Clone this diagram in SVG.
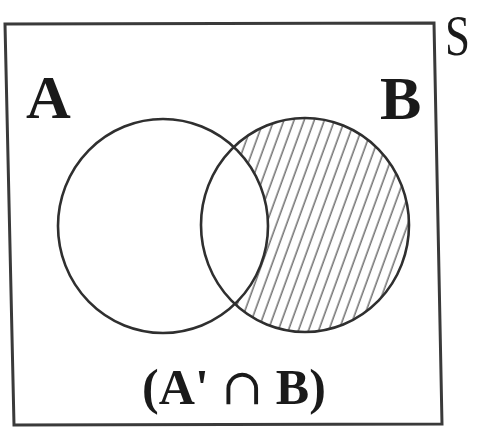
<svg xmlns="http://www.w3.org/2000/svg" width="477" height="429" viewBox="0 0 477 429">
<style>
.ring{fill:none;stroke:#2f2f2f;stroke-width:2.6}
.lbl{font-family:"Liberation Serif","Times New Roman",serif;fill:#1a1a1a}
</style>
<defs>
<pattern id="hatch" width="9.5" height="20" patternUnits="userSpaceOnUse" patternTransform="rotate(20)">
<line x1="4" y1="-2" x2="4" y2="22" stroke="#777" stroke-width="1.6"/>
</pattern>
<mask id="bOnly">
<rect x="0" y="0" width="477" height="429" fill="black"/>
<ellipse cx="305" cy="225" rx="104" ry="107" fill="white"/>
<ellipse cx="163" cy="226" rx="105" ry="107" fill="black"/>
</mask>
</defs>
<rect width="477" height="429" fill="#fff"/>
<g id="universe">
<polygon points="5,24 434,23 442,424 14,425" fill="none" stroke="#3a3a3a" stroke-width="3"/>
<text class="lbl" x="445" y="55" font-size="56" textLength="25" lengthAdjust="spacingAndGlyphs">S</text>
</g>
<g id="shade">
<rect x="190" y="110" width="230" height="230" fill="url(#hatch)" mask="url(#bOnly)"/>
</g>
<g id="setA">
<ellipse class="ring" cx="163" cy="226" rx="105" ry="107"/>
<text class="lbl" x="26" y="118" font-size="62" font-weight="bold">A</text>
</g>
<g id="setB">
<ellipse class="ring" cx="305" cy="225" rx="104" ry="107"/>
<text class="lbl" x="380" y="119" font-size="62" font-weight="bold">B</text>
</g>
<g id="caption">
<text class="lbl" x="234" y="404" font-size="50" font-weight="bold" text-anchor="middle" textLength="184" lengthAdjust="spacingAndGlyphs">(A' <tspan font-weight="normal" font-family="'DejaVu Serif',serif">∩</tspan> B)</text>
</g>
</svg>
